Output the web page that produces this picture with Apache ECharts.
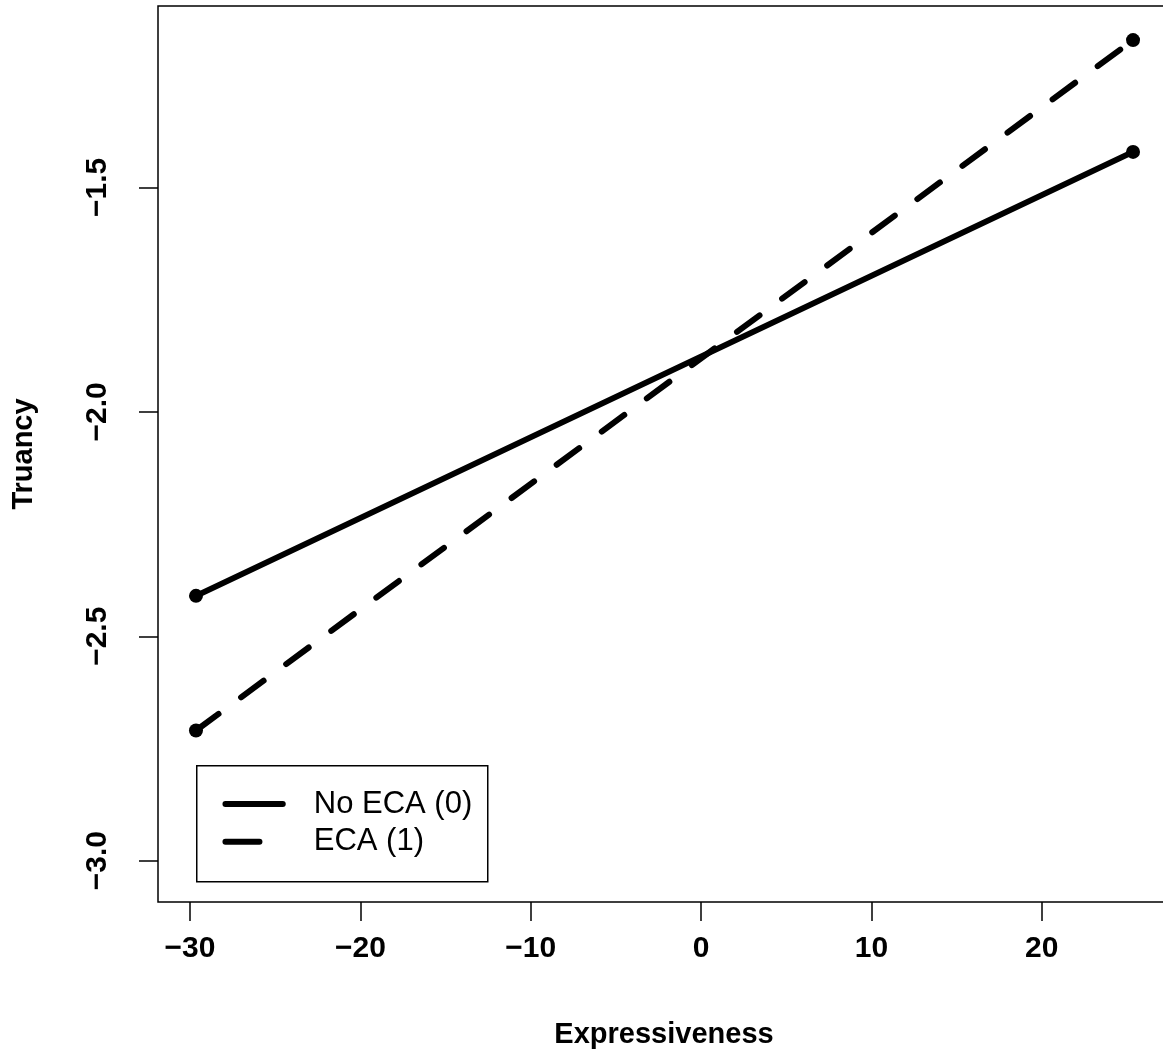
<!DOCTYPE html>
<html>
<head>
<meta charset="utf-8">
<script src="https://cdn.jsdelivr.net/npm/echarts@6/dist/echarts.min.js"></script>
<style>
  html, body { margin: 0; padding: 0; background: #fff; }
  #chart { width: 1163px; height: 1057px; }
</style>
</head>
<body>
<div id="chart"></div>
<script>
// Data
const xEnds = [-29.65, 25.36];
const noEcaValues = [-2.410, -1.421];
const ecaValues = [-2.710, -1.172];
const seriesNames = ['No ECA (0)', 'ECA (1)'];
const xTickValues = [-30, -20, -10, 0, 10, 20];
const yTickValues = [-3.0, -2.5, -2.0, -1.5];

const FONT = '"Liberation Sans", Arial, Helvetica, sans-serif';
const chart = echarts.init(document.getElementById('chart'), null, { renderer: 'canvas' });

function fmtMinus(v, digits) {
  const s = digits != null ? Math.abs(v).toFixed(digits) : String(Math.abs(v));
  return (v < 0 ? '\u2212' : '') + s;
}

const option = {
  backgroundColor: '#ffffff',
  animation: false,
  grid: {
    left: 158, top: 6, width: 1012, height: 896,
    outerBoundsMode: 'none', containLabel: false,
    show: true, borderColor: '#000', borderWidth: 1.5, backgroundColor: 'transparent'
  },
  xAxis: {
    type: 'value',
    min: -31.88, max: 27.53,
    name: 'Expressiveness',
    nameLocation: 'middle',
    nameGap: 118,
    nameTextStyle: { fontFamily: FONT, fontWeight: 'bold', fontSize: 29, color: '#000' },
    axisLine: { show: false, onZero: false },
    splitLine: { show: false },
    axisTick: { show: true, length: 19, inside: false, customValues: xTickValues, lineStyle: { color: '#000', width: 1.5 } },
    axisLabel: {
      customValues: xTickValues, margin: 32,
      fontFamily: FONT, fontWeight: 'bold', fontSize: 30, color: '#000',
      formatter: v => fmtMinus(v)
    }
  },
  yAxis: {
    type: 'value',
    min: -3.092, max: -1.096,
    name: 'Truancy',
    nameLocation: 'middle',
    nameGap: 120,
    nameTextStyle: { fontFamily: FONT, fontWeight: 'bold', fontSize: 29, color: '#000' },
    axisLine: { show: false, onZero: false },
    splitLine: { show: false },
    axisTick: { show: true, length: 19, inside: false, customValues: yTickValues, lineStyle: { color: '#000', width: 1.5 } },
    axisLabel: {
      customValues: yTickValues, margin: 45, rotate: 90,
      fontFamily: FONT, fontWeight: 'bold', fontSize: 30, color: '#000',
      formatter: v => fmtMinus(v, 1)
    }
  },
  series: [
    {
      name: seriesNames[0], type: 'line',
      data: xEnds.map((x, i) => [x, noEcaValues[i]]),
      symbol: 'circle', symbolSize: 14,
      itemStyle: { color: '#000' },
      lineStyle: { color: '#000', width: 6, cap: 'round' }
    },
    {
      name: seriesNames[1], type: 'line',
      data: xEnds.map((x, i) => [x, ecaValues[i]]),
      symbol: 'circle', symbolSize: 14,
      itemStyle: { color: '#000' },
      lineStyle: { color: '#000', width: 6, type: [28, 28], cap: 'round' }
    }
  ],
  graphic: [
    {
      type: 'group', left: 196, top: 765,
      children: [
        { type: 'rect', shape: { x: 0, y: 0, width: 291, height: 116 },
          style: { fill: '#fff', stroke: '#000', lineWidth: 1.5 } },
        { type: 'line', shape: { x1: 28.7, y1: 38.3, x2: 86, y2: 38.3 },
          style: { stroke: '#000', lineWidth: 6, lineCap: 'round' } },
        { type: 'line', shape: { x1: 28.7, y1: 76, x2: 62.7, y2: 76 },
          style: { stroke: '#000', lineWidth: 6, lineCap: 'round' } },
        { type: 'text', x: 117, y: 38.3,
          style: { text: seriesNames[0], fontFamily: FONT, fontSize: 31, fill: '#000', verticalAlign: 'middle', align: 'left' } },
        { type: 'text', x: 117, y: 76,
          style: { text: seriesNames[1], fontFamily: FONT, fontSize: 31, fill: '#000', verticalAlign: 'middle', align: 'left' } }
      ]
    }
  ]
};
chart.setOption(option);
</script>
</body>
</html>
